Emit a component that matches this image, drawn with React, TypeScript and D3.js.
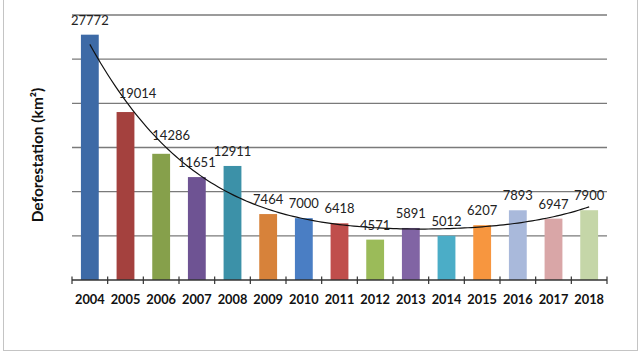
import { useEffect, useRef } from 'react';
import * as d3 from 'd3';

// annual clearing, km²
const years = ['2004', '2005', '2006', '2007', '2008', '2009', '2010', '2011', '2012', '2013', '2014', '2015', '2016', '2017', '2018'];
const deforestation = [27772, 19014, 14286, 11651, 12911, 7464, 7000, 6418, 4571, 5891, 5012, 6207, 7893, 6947, 7900];
const barColors = [
  '#3d6aa6', '#a4413e', '#86a04b', '#6e5393', '#3c91a8', '#d7823a', '#4a7ec4', '#c04e4c',
  '#9bbb59', '#8164a4', '#4badc7', '#f7963f', '#a9b9db', '#d9a6a7', '#c5d6a8',
];
const yTicks = [0, 5000, 10000, 15000, 20000, 25000, 30000];

// a couple of labels were nudged sideways so the trend curve doesn't cross them
const labelNudge: Record<string, [number, number]> = { '2005': [12, -4], '2006': [10, -4] };

// least squares polynomial fit on x = 1..n (like a spreadsheet trendline)
function polyFit(ys: number[], order: number) {
  const m = order + 1;
  const A = Array.from({ length: m }, () => new Array(m + 1).fill(0));
  ys.forEach((y, i) => {
    const x = i + 1;
    for (let r = 0; r < m; r++) {
      for (let c = 0; c < m; c++) A[r][c] += Math.pow(x, r + c);
      A[r][m] += y * Math.pow(x, r);
    }
  });
  for (let p = 0; p < m; p++) {
    let best = p;
    for (let r = p + 1; r < m; r++) if (Math.abs(A[r][p]) > Math.abs(A[best][p])) best = r;
    [A[p], A[best]] = [A[best], A[p]];
    for (let r = 0; r < m; r++) {
      if (r === p) continue;
      const f = A[r][p] / A[p][p];
      for (let c = p; c <= m; c++) A[r][c] -= f * A[p][c];
    }
  }
  const coef = A.map((row, i) => row[m] / row[i]);
  return (x: number) => coef.reduce((s, c, i) => s + c * Math.pow(x, i), 0);
}

function DeforestationChart() {
  const svgRef = useRef<SVGSVGElement>(null);

  useEffect(() => {
    const W = 642;
    const H = 354;
    const left = 72;
    const right = 607;
    const top = 15;
    const bottom = 280;

    const svg = d3.select(svgRef.current).attr('width', W).attr('height', H);
    svg.selectAll('*').remove();

    svg.append('rect').attr('width', W).attr('height', H).attr('fill', '#fff');
    // outer frame
    svg
      .append('rect')
      .attr('x', 3.5)
      .attr('y', -2)
      .attr('width', 634)
      .attr('height', 352.5)
      .attr('fill', 'none')
      .attr('stroke', '#c4c4c4')
      .attr('stroke-width', 1);

    const x = d3.scaleBand().domain(years).range([left, right]).paddingInner(0.5).paddingOuter(0.25);
    const y = d3.scaleLinear().domain([0, 30000]).range([bottom, top]);

    // gridlines
    svg
      .append('g')
      .selectAll('line')
      .data(yTicks.slice(1))
      .enter()
      .append('line')
      .attr('x1', left)
      .attr('x2', right)
      .attr('y1', d => y(d))
      .attr('y2', d => y(d))
      .attr('stroke', '#7a7a7a')
      .attr('stroke-width', 1.3);

    // bars
    svg
      .append('g')
      .selectAll('rect')
      .data(deforestation)
      .enter()
      .append('rect')
      .attr('x', (_, i) => x(years[i])!)
      .attr('y', d => y(d))
      .attr('width', x.bandwidth())
      .attr('height', d => bottom - y(d))
      .attr('fill', (_, i) => barColors[i]);

    // category axis with ticks between categories
    const step = x.step();
    const axis = svg.append('g');
    axis
      .append('line')
      .attr('x1', left)
      .attr('x2', right)
      .attr('y1', bottom)
      .attr('y2', bottom)
      .attr('stroke', '#333')
      .attr('stroke-width', 1.3);
    axis
      .selectAll('line.tick')
      .data(d3.range(years.length + 1))
      .enter()
      .append('line')
      .attr('class', 'tick')
      .attr('x1', i => left + i * step)
      .attr('x2', i => left + i * step)
      .attr('y1', bottom - 3.5)
      .attr('y2', bottom + 4)
      .attr('stroke', '#333')
      .attr('stroke-width', 1.2);
    axis
      .selectAll('text')
      .data(years)
      .enter()
      .append('text')
      .attr('x', d => x(d)! + x.bandwidth() / 2)
      .attr('y', bottom + 24)
      .attr('text-anchor', 'middle')
      .attr('font-family', 'Lato, sans-serif')
      .attr('font-weight', 'bold')
      .attr('font-size', 12.8)
      .attr('fill', '#111')
      .text(d => d);

    // 4th order polynomial trend
    const trend = polyFit(deforestation, 4);
    const xAt = (t: number) => x(years[0])! + x.bandwidth() / 2 + (t - 1) * step;
    const pts = d3.range(1, years.length + 0.001, 0.1).map(t => [xAt(t), y(trend(t))] as [number, number]);
    svg
      .append('path')
      .attr('d', d3.line()(pts))
      .attr('fill', 'none')
      .attr('stroke', '#111')
      .attr('stroke-width', 1.2);

    // value labels
    svg
      .append('g')
      .selectAll('text')
      .data(deforestation)
      .enter()
      .append('text')
      .attr('x', (_, i) => x(years[i])! + x.bandwidth() / 2 + (labelNudge[years[i]]?.[0] ?? 0))
      .attr('y', (d, i) => y(d) - 10 + (labelNudge[years[i]]?.[1] ?? 0))
      .attr('text-anchor', 'middle')
      .attr('font-family', 'Lato, sans-serif')
      .attr('font-size', 13)
      .attr('fill', '#222')
      .text(d => d);

    // axis title
    svg
      .append('text')
      .attr('transform', 'translate(42.5,155) rotate(-90)')
      .attr('text-anchor', 'middle')
      .attr('font-family', 'Lato, sans-serif')
      .attr('font-weight', 'bold')
      .attr('font-size', 15.5)
      .attr('fill', '#111')
      .text('Deforestation (km²)');
  }, []);

  return <svg ref={svgRef} style={{ display: 'block' }} />;
}

export default function App() {
  return (
    <div style={{ position: 'fixed', left: 0, top: 0 }}>
      <DeforestationChart />
    </div>
  );
}
